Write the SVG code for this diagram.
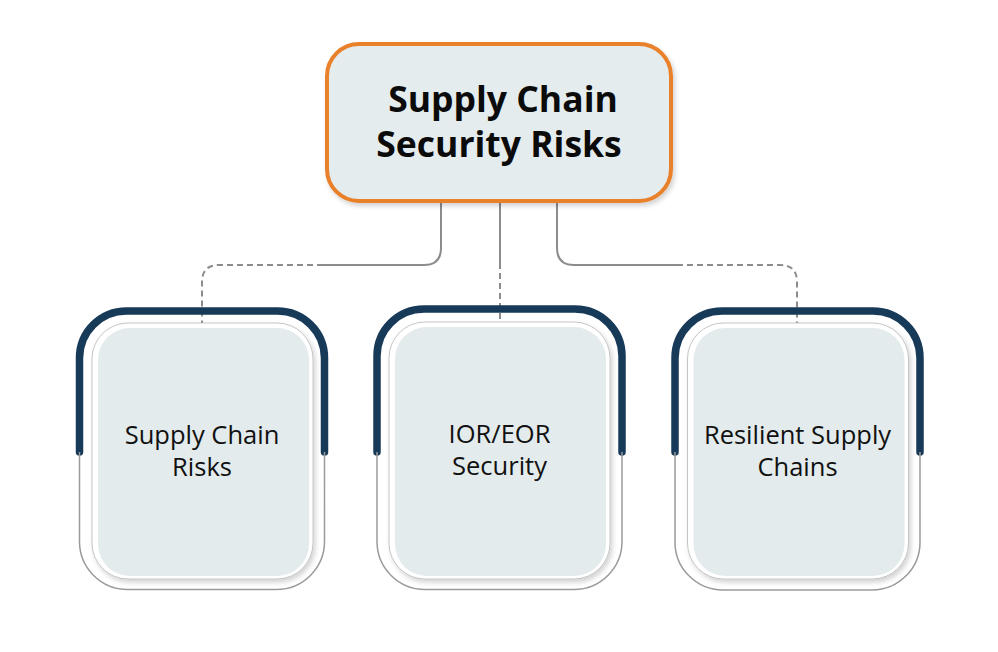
<svg xmlns="http://www.w3.org/2000/svg" width="998" height="652" viewBox="0 0 998 652">
  <defs>
    <filter id="shadow" x="-10%" y="-10%" width="125%" height="125%">
      <feDropShadow dx="2" dy="3" stdDeviation="2.5" flood-color="#000" flood-opacity="0.18"/>
    </filter>
    <style>
      .title { font-family: "Open Sans", "Liberation Sans", sans-serif; font-weight: 700; font-size: 35.5px; fill: #0b0b0b; text-anchor: middle; }
      .label { font-family: "Open Sans", "Liberation Sans", sans-serif; font-weight: 400; font-size: 25.5px; fill: #111; text-anchor: middle; }
      .solid { fill: none; stroke: #8c8c8c; stroke-width: 2; }
      .dash { fill: none; stroke: #8c8c8c; stroke-width: 2; stroke-dasharray: 6 4; }
      .navy { fill: none; stroke: #183a59; stroke-width: 7.5; stroke-linecap: round; }
      .frame { fill: none; stroke: #9a9a9a; stroke-width: 1.5; }
      .rim { fill: #ffffff; stroke: #b8b8b8; stroke-width: 0.8; }
      .card { fill: #e3ebec; }
      .top { fill: #e4ecee; stroke: #e8812c; stroke-width: 4; }
    </style>
  </defs>
  <rect width="998" height="652" fill="#ffffff"/>

  <g id="connectors">
    <path class="solid" d="M441,203 V248 Q441,265 424,265 H323"/>
    <path class="dash" d="M323,265 H219 Q202,265 202,282 V323"/>
    <path class="solid" d="M500,203 V263"/>
    <path class="dash" d="M500,263 V319"/>
    <path class="solid" d="M557,203 V248 Q557,265 574,265 H677"/>
    <path class="dash" d="M677,265 H780 Q797,265 797,282 V323"/>
  </g>

  <g id="node-root">
    <rect class="top" x="327" y="44" width="344" height="157" rx="32" filter="url(#shadow)"/>
    <text class="title" x="503" y="112">Supply Chain</text>
    <text class="title" x="499" y="157">Security Risks</text>
  </g>

  <g id="node-supply-chain-risks" transform="translate(202,0)">
    <path class="navy" d="M-122.5,452 V358 A47,47 0 0 1 -75.5,311 H75.5 A47,47 0 0 1 122.5,358 V452"/>
    <path class="frame" d="M-122.5,452 V541 A48,48 0 0 0 -74.5,589.5 H74.5 A48,48 0 0 0 122.5,541 V452"/>
    <rect class="rim" x="-110" y="323" width="221" height="256" rx="36" filter="url(#shadow)"/>
    <rect class="card" x="-104" y="328" width="211" height="248" rx="32"/>
    <text class="label" x="0" y="444">Supply Chain</text>
    <text class="label" x="0" y="476">Risks</text>
  </g>

  <g id="node-ior-eor-security" transform="translate(499.5,0)">
    <path class="navy" d="M-122.5,452 V356 A47,47 0 0 1 -75.5,309 H75.5 A47,47 0 0 1 122.5,356 V452"/>
    <path class="frame" d="M-122.5,452 V541 A48,48 0 0 0 -74.5,589.5 H74.5 A48,48 0 0 0 122.5,541 V452"/>
    <rect class="rim" x="-110.5" y="322" width="221" height="257" rx="36" filter="url(#shadow)"/>
    <rect class="card" x="-104.5" y="327" width="211" height="249" rx="32"/>
    <text class="label" x="0" y="443">IOR/EOR</text>
    <text class="label" x="0" y="475">Security</text>
  </g>

  <g id="node-resilient-supply-chains" transform="translate(797.5,0)">
    <path class="navy" d="M-122.5,452 V358 A47,47 0 0 1 -75.5,311 H75.5 A47,47 0 0 1 122.5,358 V452"/>
    <path class="frame" d="M-122.5,452 V541 A48,48 0 0 0 -74.5,590 H74.5 A48,48 0 0 0 122.5,541 V452"/>
    <rect class="rim" x="-110" y="323" width="221" height="256" rx="36" filter="url(#shadow)"/>
    <rect class="card" x="-104" y="328" width="211" height="248" rx="32"/>
    <text class="label" x="0" y="444">Resilient Supply</text>
    <text class="label" x="0" y="476">Chains</text>
  </g>
</svg>
